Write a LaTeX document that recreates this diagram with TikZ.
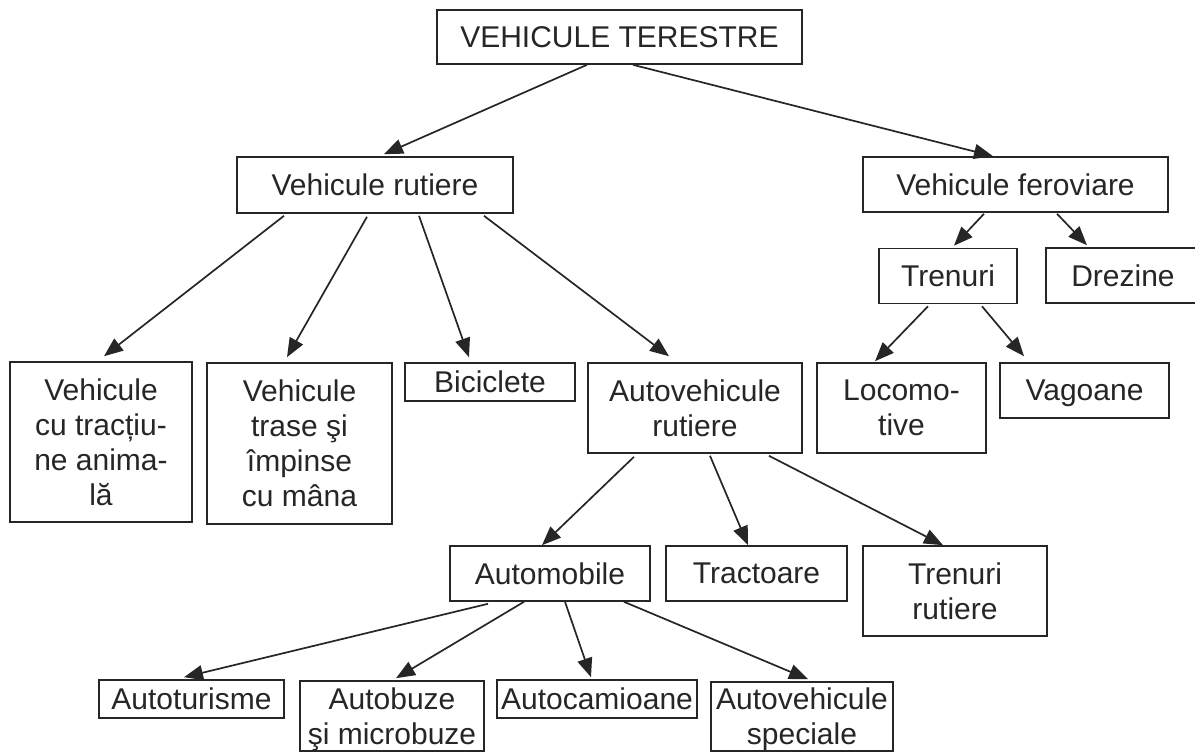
\documentclass[tikz,border=0pt]{standalone}
\usepackage{fontspec}
\setmainfont{Liberation Sans}
\usetikzlibrary{arrows.meta}
\begin{document}
\begin{tikzpicture}[x=1pt,y=-1pt,
  box/.style={draw=black!85, line width=1.6pt, rectangle, inner sep=0pt, align=center,
    text depth=0pt, font=\fontsize{30}{35}\selectfont, text=black!85},
  arr/.style={draw=black!85, line width=1.7pt, -{Triangle[length=19pt,width=15pt]}}]
\useasboundingbox[fill=white] (0,0) rectangle (1195,752);

\node[box, minimum width=365pt, minimum height=54pt] (title) at (619.5,37) {VEHICULE TERESTRE};
\node[box, minimum width=276pt, minimum height=56pt] (vr) at (375,185) {Vehicule rutiere};
\node[box, minimum width=305pt, minimum height=55pt] (vf) at (1015.5,184.5) {Vehicule feroviare};
\node[box, minimum width=138pt, minimum height=55pt] (tren) at (948,276) {Trenuri};
\node[box, minimum width=154pt, minimum height=55pt] (drez) at (1123,275.5) {Drezine};
\node[box, minimum width=169pt, minimum height=90pt] (loco) at (901.5,408) {Locomo-\\tive};
\node[box, minimum width=169pt, minimum height=55pt] (vag) at (1084.5,390.5) {Vagoane};
\node[box, minimum width=182pt, minimum height=160pt] (vct) at (101,442) {Vehicule\\cu tracțiu-\\ne anima-\\lă};
\node[box, minimum width=185pt, minimum height=161pt] (vts) at (299.5,443.5) {Vehicule\\trase şi\\împinse\\cu mâna};
\node[box, minimum width=170pt, minimum height=38pt] (bic) at (490,382) {Biciclete};
\node[box, minimum width=214pt, minimum height=90pt] (avr) at (695,408) {Autovehicule\\rutiere};
\node[box, minimum width=200pt, minimum height=55pt] (auto) at (550,573.5) {Automobile};
\node[box, minimum width=181pt, minimum height=55pt] (tract) at (756.5,573.5) {Tractoare};
\node[box, minimum width=184pt, minimum height=90pt] (trr) at (955,591) {Trenuri\\rutiere};
\node[box, minimum width=185pt, minimum height=38pt] (atur) at (191.5,699) {Autoturisme};
\node[box, minimum width=184pt, minimum height=70pt] (abuz) at (392,716) {Autobuze\\şi microbuze};
\node[box, minimum width=200pt, minimum height=38pt] (acam) at (597,699) {Autocamioane};
\node[box, minimum width=182pt, minimum height=69pt] (aspec) at (802,716.5) {Autovehicule\\speciale};

\draw[arr] ([xshift=-32.5pt]title.south) -- ([xshift=9pt,yshift=2pt]vr.north);
\draw[arr] ([xshift=13.5pt]title.south) -- ([xshift=-22.5pt]vf.north);
\draw[arr] ([xshift=-91pt,yshift=-2pt]vr.south) -- ([xshift=3pt,yshift=5pt]vct.north);
\draw[arr] ([xshift=-8pt,yshift=-3pt]vr.south) -- ([xshift=-12.5pt,yshift=5pt]vts.north);
\draw[arr] ([xshift=44pt,yshift=-2pt]vr.south) -- ([xshift=-21pt,yshift=5pt]bic.north);
\draw[arr] ([xshift=109pt,yshift=-2pt]vr.south) -- ([xshift=-26pt,yshift=6pt]avr.north);
\draw[arr] ([xshift=-31.5pt,yshift=-1pt]vf.south) -- ([xshift=6pt,yshift=2pt]tren.north);
\draw[arr] ([xshift=41.5pt,yshift=-1pt]vf.south) -- ([xshift=-36pt,yshift=2pt]drez.north);
\draw[arr] ([xshift=-20pt,yshift=-2pt]tren.south) -- ([xshift=-26.5pt,yshift=1pt]loco.north);
\draw[arr] ([xshift=34pt,yshift=-2pt]tren.south) -- ([xshift=-60.5pt,yshift=6pt]vag.north);
\draw[arr] ([xshift=-61pt,yshift=-3pt]avr.south) -- ([xshift=-8pt]auto.north);
\draw[arr] ([xshift=15pt,yshift=-2pt]avr.south) -- ([xshift=-8.5pt]tract.north);
\draw[arr] ([xshift=74pt,yshift=-2pt]avr.south) -- ([xshift=-12pt]trr.north);
\draw[arr] ([xshift=-62pt,yshift=-2pt]auto.south) -- ([xshift=-7.5pt,yshift=2pt]atur.north);
\draw[arr] ([xshift=-26pt]auto.south) -- ([xshift=4pt,yshift=2pt]abuz.north);
\draw[arr] ([xshift=15pt]auto.south) -- ([xshift=-6pt,yshift=2pt]acam.north);
\draw[arr] ([xshift=74pt]auto.south) -- ([xshift=6pt,yshift=2pt]aspec.north);
\end{tikzpicture}
\end{document}
